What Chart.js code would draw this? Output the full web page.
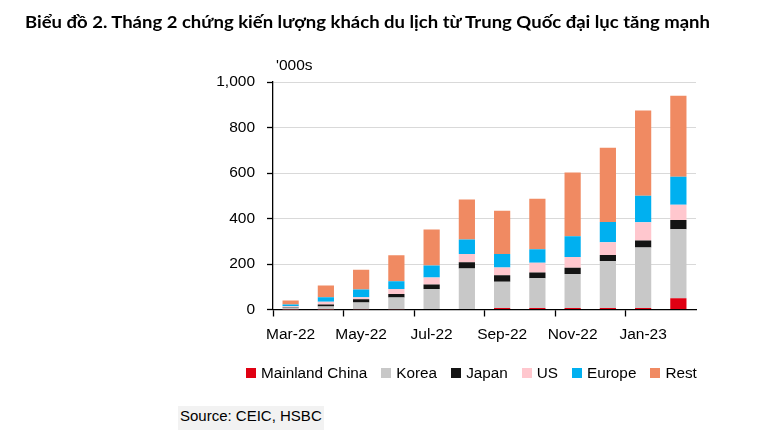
<!DOCTYPE html>
<html>
<head>
<meta charset="utf-8">
<script src="https://cdn.jsdelivr.net/npm/chart.js@4.4.1/dist/chart.umd.min.js"></script>
<style>
  html, body { margin:0; padding:0; background:#fff; }
  #wrap { position:relative; width:765px; height:430px; overflow:hidden; }
  #c { position:absolute; left:0; top:0; }
  #title { position:absolute; left:25px; top:13px; font-family:Lato, "Noto Sans", sans-serif; font-weight:700; font-size:17px; line-height:1; white-space:nowrap; color:#000; transform-origin:0 0; }
  #unit { position:absolute; left:276px; line-height:1; color:#000; white-space:nowrap; }
  #legend { position:absolute; left:246px; display:flex; align-items:center; line-height:1; color:#000; white-space:nowrap; }
  #legend .item { display:flex; align-items:center; margin-right:14px; }
  #legend .sw { width:10px; height:10px; margin-right:5px; }
  #source { position:absolute; left:178px; top:406px; padding:1px 2px 5px 2px; background:#f2f2f2; line-height:1.2; color:#000; white-space:nowrap; }
</style>
</head>
<body>
<div id="wrap">
  <canvas id="c" width="765" height="430"></canvas>
  <div id="title">Biểu đồ 2. Tháng 2 chứng kiến lượng khách du lịch từ Trung Quốc đại lục tăng mạnh</div>
  <div id="unit">'000s</div>
  <div id="legend"></div>
  <div id="source">Source: CEIC, HSBC</div>
</div>
<script>
const categories = ["Mar-22","Apr-22","May-22","Jun-22","Jul-22","Aug-22","Sep-22","Oct-22","Nov-22","Dec-22","Jan-23","Feb-23"];
const mainlandChina = [0.5, 0.5, 1, 1, 2, 2, 7, 7, 7, 7, 7, 49];
const korea        = [7, 13, 30, 52, 88, 178, 115, 130, 149, 206, 265, 304];
const japan        = [2, 8, 14, 15, 20, 28, 29, 26, 28, 27, 31, 40];
const us           = [5, 13, 9, 22, 31, 36, 34, 43, 47, 56, 81, 67];
const europe       = [8, 19, 34, 34, 52, 64, 59, 59, 91, 89, 116, 124];
const rest         = [17, 52, 87, 114, 159, 176, 190, 222, 280, 326, 375, 356];
const seriesNames  = ["Mainland China","Korea","Japan","US","Europe","Rest"];
const seriesColors = ["#e00012","#c8c8c8","#141414","#ffc7ce","#00b0f0","#f08a62"];
const yMin = 0, yMax = 1000, yStep = 200;

const seriesData = [mainlandChina, korea, japan, us, europe, rest];

// pick a narrow sans if installed (reference text is condensed)
function hasFont(name) {
  const ctx = document.createElement('canvas').getContext('2d');
  const s = 'Mainland China 1,000 Mar-22';
  ctx.font = '40px monospace';
  const a = ctx.measureText(s).width;
  ctx.font = '40px "' + name + '", monospace';
  const b = ctx.measureText(s).width;
  return Math.abs(a - b) > 0.5;
}
const narrow = hasFont('Liberation Sans Narrow');
const fam = narrow ? "'Liberation Sans Narrow', 'Liberation Sans', Arial, sans-serif" : "'Liberation Sans', Arial, sans-serif";
const S = narrow
  ? { tick: 18.5, xpad: 6, legend: 17.5, legendTop: 364, source: 17, unit: 18.5, unitTop: 55 }
  : { tick: 15.5, xpad: 9, legend: 15.3, legendTop: 365, source: 15, unit: 15.5, unitTop: 57 };
const tickFont = { family: fam, size: S.tick };

new Chart(document.getElementById('c'), {
  type: 'bar',
  data: {
    labels: categories,
    datasets: seriesNames.map((n, i) => ({
      label: n,
      data: seriesData[i],
      backgroundColor: seriesColors[i],
      borderWidth: 0,
      barPercentage: 0.46,
      categoryPercentage: 1
    }))
  },
  options: {
    responsive: false,
    animation: false,
    layout: { padding: { left: 0, top: 82, right: 69, bottom: 80.5 } },
    plugins: { legend: { display: false }, tooltip: { enabled: false }, title: { display: false } },
    scales: {
      x: {
        stacked: true,
        offset: true,
        grid: {
          offset: true,
          drawOnChartArea: false,
          drawTicks: true,
          tickLength: 7,
          tickWidth: 1.3,
          tickColor: ctx => (ctx.index % 2 === 0 ? '#000' : 'rgba(0,0,0,0)')
        },
        border: { color: '#000', width: 1.3 },
        ticks: {
          autoSkip: false,
          maxRotation: 0,
          minRotation: 0,
          padding: S.xpad,
          color: '#000',
          font: tickFont,
          callback: (v, i) => (i % 2 === 0 ? categories[i] : '')
        },
        afterFit: s => { s.height = 40; }
      },
      y: {
        stacked: true,
        min: yMin,
        max: yMax,
        grid: { color: '#d9d9d9', lineWidth: 1, tickColor: '#000', tickLength: 6, tickWidth: 1.3 },
        border: { color: '#000', width: 1.3 },
        ticks: {
          stepSize: yStep,
          padding: 12,
          color: '#000',
          font: tickFont,
          callback: v => Number(v).toLocaleString('en-US')
        },
        afterFit: s => { s.width = 273; }
      }
    }
  }
});

// unit label
const un = document.getElementById('unit');
un.style.fontFamily = fam; un.style.fontSize = S.unit + 'px'; un.style.top = S.unitTop + 'px';
// legend
const lg = document.getElementById('legend');
lg.style.fontFamily = fam; lg.style.fontSize = S.legend + 'px'; lg.style.top = S.legendTop + 'px';
seriesNames.forEach((n, i) => {
  const it = document.createElement('div');
  it.className = 'item';
  const sw = document.createElement('span');
  sw.className = 'sw';
  sw.style.background = seriesColors[i];
  const tx = document.createElement('span');
  tx.textContent = n;
  it.appendChild(sw); it.appendChild(tx);
  lg.appendChild(it);
});
// source
const sr = document.getElementById('source');
sr.style.fontFamily = fam; sr.style.fontSize = S.source + 'px';
// fit title width
const t = document.getElementById('title');
const w = t.getBoundingClientRect().width;
t.style.transform = 'scaleX(' + (685 / w) + ')';
</script>
</body>
</html>
